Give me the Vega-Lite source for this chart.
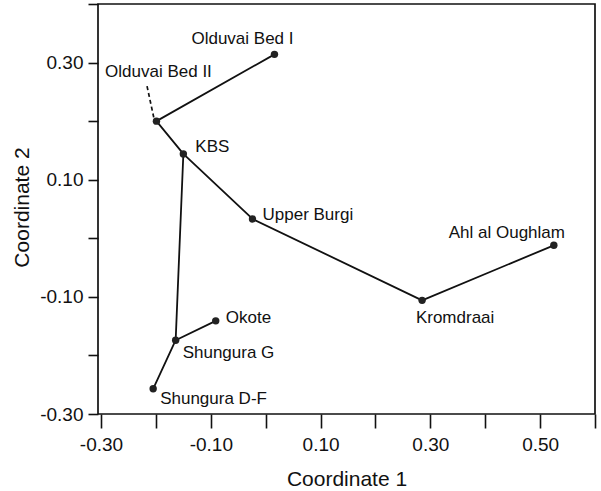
{
  "$schema": "https://vega.github.io/schema/vega-lite/v6.json",
  "autosize": {"type": "none"},
  "padding": {"left": 98, "top": 4, "right": 6, "bottom": 77},
  "width": 497,
  "height": 410,
  "background": "white",
  "config": {
    "view": {"stroke": "#111", "strokeWidth": 1.7},
    "axis": {
      "grid": false,
      "domain": false,
      "tickColor": "#111",
      "tickWidth": 1.6,
      "labelFont": "Liberation Sans",
      "labelFontSize": 19,
      "labelColor": "#111",
      "titleFont": "Liberation Sans",
      "titleFontSize": 21,
      "titleFontWeight": "normal",
      "titleColor": "#111"
    },
    "text": {"font": "Liberation Sans", "fontSize": 17, "color": "#111"}
  },
  "datasets": {
    "pts": [
      {"site": "Olduvai Bed I", "c1": 0.016, "c2": 0.314},
      {"site": "Olduvai Bed II", "c1": -0.199, "c2": 0.200},
      {"site": "KBS", "c1": -0.150, "c2": 0.144},
      {"site": "Upper Burgi", "c1": -0.024, "c2": 0.033},
      {"site": "Kromdraai", "c1": 0.285, "c2": -0.106},
      {"site": "Ahl al Oughlam", "c1": 0.525, "c2": -0.012},
      {"site": "Okote", "c1": -0.091, "c2": -0.141},
      {"site": "Shungura G", "c1": -0.164, "c2": -0.174},
      {"site": "Shungura D-F", "c1": -0.205, "c2": -0.257}
    ],
    "edges": [
      {"from": "Olduvai Bed I", "to": "Olduvai Bed II"},
      {"from": "Olduvai Bed II", "to": "KBS"},
      {"from": "KBS", "to": "Upper Burgi"},
      {"from": "Upper Burgi", "to": "Kromdraai"},
      {"from": "Kromdraai", "to": "Ahl al Oughlam"},
      {"from": "KBS", "to": "Shungura G"},
      {"from": "Shungura G", "to": "Okote"},
      {"from": "Shungura G", "to": "Shungura D-F"}
    ]
  },
  "encoding": {
    "x": {
      "field": "c1", "type": "quantitative",
      "scale": {"domain": [-0.3055, 0.6], "nice": false, "zero": false},
      "axis": {
        "title": "Coordinate 1",
        "values": [-0.3, -0.2, -0.1, 0, 0.1, 0.2, 0.3, 0.4, 0.5, 0.6],
        "labelExpr": "(round(datum.value*10)+3) % 2 == 0 ? (datum.value < 0 ? '-' : '') + format(abs(datum.value), '.2f') : ''",
        "tickSize": 14,
        "labelPadding": 7,
        "titleBaseline": "alphabetic",
        "titleY": 71
      }
    },
    "y": {
      "field": "c2", "type": "quantitative",
      "scale": {"domain": [-0.3, 0.4], "nice": false, "zero": false},
      "axis": {
        "title": "Coordinate 2",
        "values": [-0.3, -0.2, -0.1, 0, 0.1, 0.2, 0.3, 0.4],
        "labelExpr": "(round(datum.value*10)+3) % 2 == 0 ? (datum.value < 0 ? '-' : '') + format(abs(datum.value), '.2f') : ''",
        "tickSize": 10,
        "labelPadding": 5,
        "titleBaseline": "middle",
        "titleX": -76,
        "titleY": 203
      }
    }
  },
  "layer": [
    {
      "data": {"name": "edges"},
      "transform": [
        {"lookup": "from", "from": {"data": {"name": "pts"}, "key": "site", "fields": ["c1", "c2"]}, "as": ["x1", "y1"]},
        {"lookup": "to", "from": {"data": {"name": "pts"}, "key": "site", "fields": ["c1", "c2"]}, "as": ["xe", "ye"]}
      ],
      "mark": {"type": "rule", "color": "#111", "strokeWidth": 1.8, "strokeCap": "round"},
      "encoding": {
        "x": {"field": "x1", "type": "quantitative"},
        "y": {"field": "y1", "type": "quantitative"},
        "x2": {"field": "xe"},
        "y2": {"field": "ye"}
      }
    },
    {
      "data": {"name": "pts"},
      "transform": [{"filter": "datum.site == 'Olduvai Bed II'"}],
      "mark": {"type": "rule", "color": "#111", "strokeWidth": 1.7, "strokeDash": [4, 3], "xOffset": -2.7, "yOffset": -3.7, "x2Offset": -10, "y2Offset": -37.7},
      "encoding": {
        "x2": {"field": "c1"},
        "y2": {"field": "c2"}
      }
    },
    {
      "data": {"name": "pts"},
      "mark": {"type": "circle", "size": 55, "color": "#222", "opacity": 1},
      "encoding": {}
    },
    {"data": {"name": "pts"}, "transform": [{"filter": "datum.site == 'Olduvai Bed I'"}],
     "mark": {"type": "text", "align": "center", "baseline": "alphabetic", "dx": -32, "dy": -10},
     "encoding": {"text": {"field": "site"}}},
    {"data": {"name": "pts"}, "transform": [{"filter": "datum.site == 'Olduvai Bed II'"}],
     "mark": {"type": "text", "align": "center", "baseline": "alphabetic", "dx": 2, "dy": -44},
     "encoding": {"text": {"field": "site"}}},
    {"data": {"name": "pts"}, "transform": [{"filter": "datum.site == 'KBS'"}],
     "mark": {"type": "text", "align": "left", "baseline": "alphabetic", "dx": 12, "dy": -2},
     "encoding": {"text": {"field": "site"}}},
    {"data": {"name": "pts"}, "transform": [{"filter": "datum.site == 'Upper Burgi'"}],
     "mark": {"type": "text", "align": "left", "baseline": "alphabetic", "dx": 10, "dy": 1},
     "encoding": {"text": {"field": "site"}}},
    {"data": {"name": "pts"}, "transform": [{"filter": "datum.site == 'Ahl al Oughlam'"}],
     "mark": {"type": "text", "align": "center", "baseline": "alphabetic", "dx": -47, "dy": -7},
     "encoding": {"text": {"field": "site"}}},
    {"data": {"name": "pts"}, "transform": [{"filter": "datum.site == 'Kromdraai'"}],
     "mark": {"type": "text", "align": "center", "baseline": "alphabetic", "dx": 33, "dy": 23},
     "encoding": {"text": {"field": "site"}}},
    {"data": {"name": "pts"}, "transform": [{"filter": "datum.site == 'Okote'"}],
     "mark": {"type": "text", "align": "left", "baseline": "alphabetic", "dx": 10, "dy": 2},
     "encoding": {"text": {"field": "site"}}},
    {"data": {"name": "pts"}, "transform": [{"filter": "datum.site == 'Shungura G'"}],
     "mark": {"type": "text", "align": "left", "baseline": "alphabetic", "dx": 7, "dy": 18},
     "encoding": {"text": {"field": "site"}}},
    {"data": {"name": "pts"}, "transform": [{"filter": "datum.site == 'Shungura D-F'"}],
     "mark": {"type": "text", "align": "left", "baseline": "alphabetic", "dx": 7, "dy": 15},
     "encoding": {"text": {"field": "site"}}}
  ]
}
